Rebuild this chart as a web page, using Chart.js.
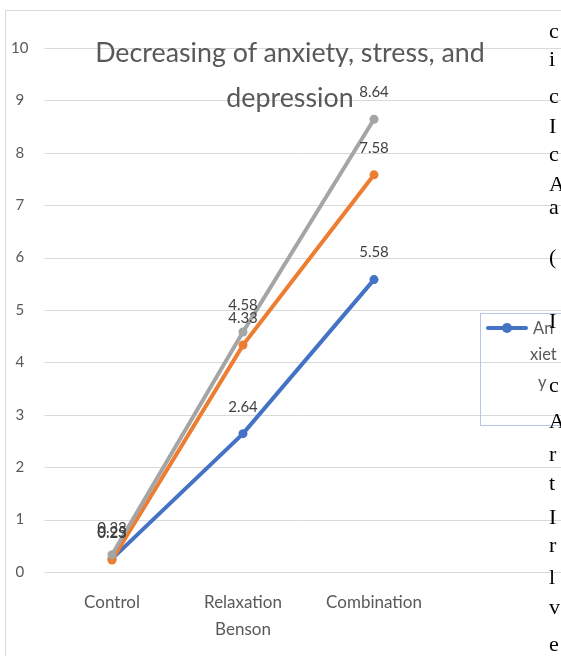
<!doctype html>
<html>
<head>
	<meta charset="utf-8">
	<title>Decreasing of anxiety, stress, and depression</title>
	<script src="https://cdn.jsdelivr.net/npm/chart.js@4.4.1/dist/chart.umd.min.js"></script>
	<style>
		body { margin: 0; background: #fff; overflow: hidden; }
		.wrap { position: relative; width: 561px; height: 656px; overflow: hidden; }
		.frame { position: absolute; left: 5px; top: 10px; width: 700px; height: 700px;
			border-left: 1px solid #d9d9d9; border-top: 1px solid #d9d9d9; }
		#chart { position: absolute; left: 0; top: 0; }
		.title { position: absolute; left: 40px; width: 500px; top: 30px; text-align: center;
			font-family: Lato, sans-serif; font-size: 26.8px; line-height: 45px; color: #595959; }
		.legend { position: absolute; left: 480px; top: 313px; width: 100px; height: 111px;
			border: 1px solid #b4c7e7; font-family: Lato, sans-serif; font-size: 16.5px; color: #595959; }
		.legend .line { position: absolute; left: 5px; top: 12px; width: 42px; height: 4px; background: #4472C4; border-radius: 2px; }
		.legend .dot { position: absolute; left: 21px; top: 9px; width: 10px; height: 10px; background: #4472C4; border-radius: 50%; }
		.legend .txt { position: absolute; line-height: 20px; }
		.page { position: absolute; left: 549px; top: 0; font-family: "Liberation Serif", serif; font-size: 22px; color: #000; }
		.page span { position: absolute; left: 0; }
	</style>
</head>
<body>
<div class="wrap">
	<div class="frame"></div>
	<canvas id="chart" width="561" height="656"></canvas>
	<div class="title">Decreasing of anxiety, stress, and<br>depression</div>
	<div class="legend"><div class="line"></div><div class="dot"></div>
		<div class="txt" style="left:52px;top:4px">An</div>
		<div class="txt" style="left:49px;top:30px">xiet</div>
		<div class="txt" style="left:57px;top:58px">y</div>
	</div>
	<div class="page">
		<span style="top:18px">c</span><span style="top:46px">i</span><span style="top:83px">c</span>
		<span style="top:113px">I</span><span style="top:141px">c</span><span style="top:171px">A</span>
		<span style="top:194px">a</span><span style="top:244px">(</span><span style="top:308px">I</span>
		<span style="top:372px">c</span><span style="top:408px">A</span><span style="top:441px">r</span>
		<span style="top:470px">t</span><span style="top:504px">I</span><span style="top:532px">r</span>
		<span style="top:564px">l</span><span style="top:594px">v</span><span style="top:631px">e</span>
	</div>
</div>
<script>
	var categories = ["Control", ["Relaxation", "Benson"], "Combination"];
	var anxietyValues = [0.25, 2.64, 5.58];
	var stressValues = [0.23, 4.33, 7.58];
	var depressionValues = [0.33, 4.58, 8.64];
	var yTicks = [0, 1, 2, 3, 4, 5, 6, 7, 8, 9, 10];

	// gridlines run past the plot area to the right edge, like the source
	var longGrid = {
		id: 'longGrid',
		beforeDatasetsDraw: function(chart) {
			var ctx = chart.ctx, y = chart.scales.y, area = chart.chartArea;
			ctx.save();
			ctx.strokeStyle = '#d9d9d9';
			ctx.lineWidth = 1;
			yTicks.forEach(function(v) {
				var py = Math.round(y.getPixelForValue(v)) + 0.5;
				ctx.beginPath();
				ctx.moveTo(area.left - 2, py);
				ctx.lineTo(chart.width, py);
				ctx.stroke();
			});
			ctx.restore();
		}
	};

	// value labels above each point
	var pointLabels = {
		id: 'pointLabels',
		afterDatasetsDraw: function(chart) {
			var ctx = chart.ctx;
			ctx.save();
			ctx.font = '15px Lato, sans-serif';
			ctx.fillStyle = '#404040';
			ctx.textAlign = 'center';
			ctx.textBaseline = 'middle';
			chart.data.datasets.forEach(function(ds, i) {
				chart.getDatasetMeta(i).data.forEach(function(pt, j) {
					ctx.fillText(ds.data[j].toFixed(2), pt.x, pt.y - 27);
				});
			});
			ctx.restore();
		}
	};

	new Chart("chart", {
		type: "line",
		data: {
			labels: categories,
			datasets: [
				{ label: "Anxiety", data: anxietyValues, borderColor: "#4472C4", backgroundColor: "#4472C4", order: 3 },
				{ label: "Stress", data: stressValues, borderColor: "#ED7D31", backgroundColor: "#ED7D31", order: 2 },
				{ label: "Depression", data: depressionValues, borderColor: "#A5A5A5", backgroundColor: "#A5A5A5", order: 1 }
			]
		},
		options: {
			responsive: false,
			animation: false,
			devicePixelRatio: 1,
			elements: {
				line: { borderWidth: 4, tension: 0 },
				point: { radius: 4.5, borderWidth: 0, hoverRadius: 5 }
			},
			layout: { padding: { left: 6, top: 48, right: 121.5, bottom: 0 } },
			plugins: { legend: { display: false }, title: { display: false }, tooltip: { enabled: false } },
			scales: {
				y: {
					min: 0, max: 10,
					afterFit: function(s) { s.width = 40.5; },
					afterBuildTicks: function(s) { s.ticks = yTicks.map(function(v) { return { value: v }; }); },
					grid: { display: false },
					border: { display: false },
					ticks: { color: '#595959', font: { family: 'Lato', size: 15 }, padding: 10, crossAlign: 'center' }
				},
				x: {
					offset: true,
					afterFit: function(s) { s.height = 84; },
					grid: { display: false },
					border: { display: false },
					ticks: { color: '#595959', font: { family: 'Lato', size: 17, lineHeight: 1.6 }, padding: 9, maxRotation: 0 }
				}
			}
		},
		plugins: [longGrid, pointLabels]
	});
</script>
</body>
</html>
